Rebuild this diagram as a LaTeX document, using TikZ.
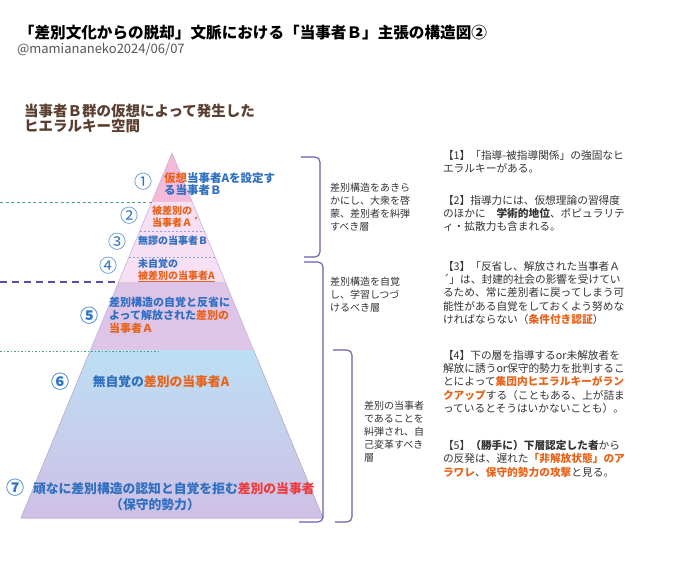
\documentclass[tikz,border=0pt]{standalone}
\usepackage{fontspec}
\setmainfont{Noto Sans CJK JP}
\newcommand\fsz[2]{\fontsize{#1}{#2}\selectfont}
\definecolor{tblue}{HTML}{2E6FC0}
\definecolor{numblue}{HTML}{2E75C8}
\definecolor{torange}{HTML}{E8621A}
\definecolor{tred}{HTML}{EE3B3B}
\definecolor{hbrown}{HTML}{5A3E30}
\definecolor{dgray}{HTML}{333333}
\definecolor{sgray}{HTML}{555555}
\definecolor{brcol}{HTML}{6A5AAE}
\definecolor{lone}{HTML}{F5B9D9}
\definecolor{ltwo}{HTML}{F7DFF4}
\definecolor{lfive}{HTML}{DEC5E7}
\definecolor{lsixtop}{HTML}{BCDFF3}
\definecolor{lsixbot}{HTML}{CFC0E5}
\definecolor{pedge}{HTML}{C6B3DE}
\definecolor{tealc}{HTML}{4AA08C}
\definecolor{purpc}{HTML}{5E4BA6}
\definecolor{innerc}{HTML}{8AA2D8}
\begin{document}
\begin{tikzpicture}[x=1pt,y=-1pt,
  every node/.style={inner sep=0pt, outer sep=0pt},
  num/.style={text=numblue, font=\fsz{18}{18}},
  lay/.style={anchor=north west, align=left, text=tblue, font=\fsz{10}{11.5}\bfseries},
  side/.style={anchor=north west, align=left, text=dgray, font=\fsz{10}{13}},
  note/.style={anchor=north west, align=left, text=dgray, font=\fsz{10.7}{13.4}},
  brk/.style={draw=brcol, line width=1.1pt, rounded corners=5pt},
]
\useasboundingbox (0,0) rectangle (680,564);
\fill[white] (0,0) rectangle (680,564);

% titles
\node[anchor=west, font=\fsz{15.6}{18}\bfseries, text=black] (title) at (19,33) {「差別文化からの脱却」文脈における「当事者Ｂ」主張の構造図②};
\node[anchor=west, font=\fsz{13}{15}, text=sgray] (sub) at (17,49) {@mamiananeko2024/06/07};
\node[anchor=north west, align=left, font=\fsz{14.5}{15.5}\bfseries, text=hbrown] (head) at (24,104) {当事者Ｂ群の仮想によって発生した\\ヒエラルキー空間};

% pyramid
\fill[lone] (172,153) -- (192.3,202) -- (151.7,202) -- cycle;
\fill[ltwo] (151.7,202) -- (192.3,202) -- (225.4,282) -- (118.6,282) -- cycle;
\fill[lfive] (118.6,282) -- (225.4,282) -- (253.5,350) -- (90.5,350) -- cycle;
\fill[top color=lsixtop, bottom color=lsixbot] (90.5,350) -- (253.5,350) -- (323,518) -- (21,518) -- cycle;
\draw[pedge, line width=0.6pt] (172,153) -- (323,518) -- (21,518) -- cycle;
\draw[innerc, line width=0.8pt, dash pattern=on 2pt off 2pt] (139.7,231) -- (204.3,231);
\draw[innerc, line width=0.8pt, dash pattern=on 2pt off 2pt] (129,257) -- (215,257);

% left guide lines
\draw[tealc, line width=0.8pt, dash pattern=on 3pt off 2.5pt] (0,202) -- (151.7,202);
\draw[purpc, line width=1.6pt, dash pattern=on 7pt off 5pt] (0,282) -- (118.6,282);
\draw[tealc, line width=0.9pt, dash pattern=on 1.5pt off 2pt] (0,351) -- (160,351);

% numbers
\node[num] (n1) at (143,182) {①};
\node[num] (n2) at (129,216) {②};
\node[num] (n3) at (117,242) {③};
\node[num] (n4) at (108,266) {④};
\node[num, font=\fsz{18}{18}\bfseries] (n5) at (89,316) {⑤};
\node[num, font=\fsz{18}{18}\bfseries] (n6) at (60,382) {⑥};
\node[num, font=\fsz{18}{18}\bfseries] (n7) at (15,488) {⑦};

% layer texts
\node[lay, font=\fsz{11.5}{12.5}\bfseries] (t1) at (164,172.5) {{\color{torange}仮想}当事者Aを設定す\\る当事者Ｂ};
\node[lay, text=torange] (t2) at (152,206) {被差別の\\当事者Ａ´};
\node[lay] (t3) at (138,235.5) {無謬の当事者Ｂ};
\node[lay] (t4) at (138,259) {未自覚の\\{\color{torange}\underline{被差別の当事者A}}};
\node[lay, font=\fsz{11}{13}\bfseries] (t5) at (109,297.5) {差別構造の自覚と反省に\\よって解放された{\color{torange}差別の}\\{\color{torange}当事者Ａ}};
\node[text=tblue, font=\fsz{12.8}{14}\bfseries] (t6) at (161,382) {無自覚の{\color{torange}差別の当事者A}};
\node[anchor=west, text=tblue, font=\fsz{12.8}{14}\bfseries] (t7a) at (33,489) {頑なに差別構造の認知と自覚を拒む{\color{tred}差別の当事者}};
\node[text=tblue, font=\fsz{12.8}{14}\bfseries] (t7b) at (155,505) {（保守的勢力）};

% brackets
\draw[brk] (301,157) -- (320,157) -- (320,257) -- (304,257);
\draw[brk] (304,262) -- (323,262) -- (323,522) -- (299,522);
\draw[brk] (333,350) -- (352,350) -- (352,522) -- (335,522);

% bracket texts
\node[side] (s1) at (330,183.5) {差別構造をあきら\\かにし、大衆を啓\\蒙、差別者を糾弾\\すべき層};
\node[side] (s2) at (330,277.5) {差別構造を自覚\\し、学習しつづ\\けるべき層};
\node[side] (s3) at (364,401.5) {差別の当事者\\であることを\\糾弾され、自\\己変革すべき\\層};

% notes
\node[note] (c1) at (443,150) {【1】「指導-被指導関係」の強固なヒ\\エラルキーがある。};
\node[note] (c2) at (443,195) {【2】指導力には、仮想理論の習得度\\のほかに　{\bfseries 学術的地位}、ポピュラリテ\\ィ・拡散力も含まれる。};
\node[note] (c3) at (443,261) {【3】「反省し、解放された当事者Ａ\\´」は、封建的社会の影響を受けてい\\るため、常に差別者に戻ってしまう可\\能性がある自覚をしておくよう努めな\\ければならない（{\color{torange}\bfseries 条件付き認証}）};
\node[note] (c4) at (443,350) {【4】下の層を指導するor未解放者を\\解放に誘うor保守的勢力を批判するこ\\とによって{\color{torange}\bfseries 集団内ヒエラルキーがラン}\\{\color{torange}\bfseries クアップ}する（こともある、上が詰ま\\っているとそうはいかないことも）。};
\node[note] (c5) at (443,440) {【5】{\bfseries （勝手に）下層認定した者}から\\の反発は、遅れた{\color{torange}\bfseries 「非解放状態」のア}\\{\color{torange}\bfseries ラワレ}、{\color{torange}\bfseries 保守的勢力の攻撃}と見る。};
\end{tikzpicture}
\end{document}
